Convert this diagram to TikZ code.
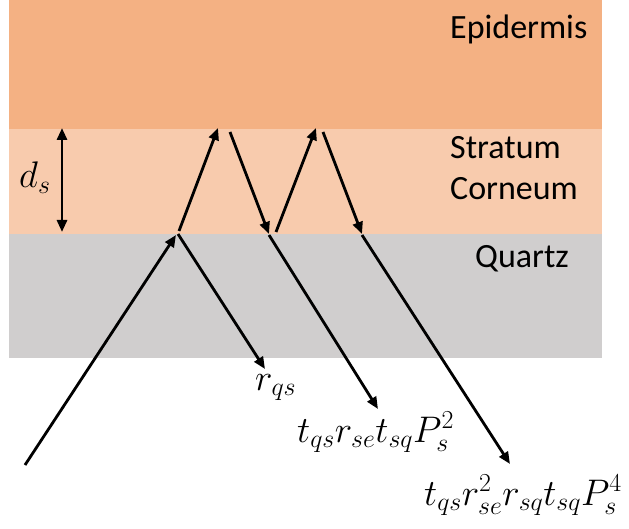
\RequirePackage{fix-cm}
\documentclass[tikz,border=0pt]{standalone}
\usepackage{fontspec}
\setsansfont{Carlito}
\usetikzlibrary{arrows.meta}
\definecolor{epi}{HTML}{F4B183}
\definecolor{sc}{HTML}{F8CBAD}
\definecolor{qz}{HTML}{D0CECE}
\begin{document}
\begin{tikzpicture}[x=1pt,y=-1pt,
  ray/.style={line width=2.8pt,-{Triangle[length=12pt,width=10pt]}},
  layerlabel/.style={anchor=base west,inner sep=0pt,font=\sffamily\fontsize{34}{41}\selectfont},
  mathlabel/.style={anchor=base west,inner sep=0pt,font=\fontsize{37}{44}\selectfont}]
\useasboundingbox (0,0) rectangle (629,529);
% layers
\fill[epi] (9,0) rectangle (602,129);
\fill[sc] (9,129) rectangle (602,234);
\fill[qz] (9,234) rectangle (602,358);
% layer labels
\node[layerlabel] (epid) at (450,39) {Epidermis};
\node[layerlabel] (strat) at (450,159) {Stratum};
\node[layerlabel] (corn) at (450,200) {Corneum};
\node[layerlabel] (quartz) at (475,268) {Quartz};
% thickness
\coordinate (dtop) at (62,128);
\coordinate (dbot) at (62,232);
\draw[line width=2.8pt,{Triangle[length=12pt,width=10pt]}-{Triangle[length=12pt,width=10pt]}] (dtop) -- (dbot);
\node[mathlabel] (ds) at (19,188) {$d_s$};
% ray points
\coordinate (a0) at (25,465);
\coordinate (a1) at (176,235);
\coordinate (r0) at (178,234);
\coordinate (r1) at (265,369);
\coordinate (u1s) at (179,231);
\coordinate (u1e) at (218,128);
\coordinate (d1s) at (230,132);
\coordinate (d1e) at (269,234);
\coordinate (t1s) at (269,235);
\coordinate (t1e) at (378,409);
\coordinate (u2s) at (276,232);
\coordinate (u2e) at (316,128);
\coordinate (d2s) at (323,132);
\coordinate (d2e) at (362,234);
\coordinate (t2s) at (362,235);
\coordinate (t2e) at (510,464);
\draw[ray] (a0) -- (a1);
\draw[ray] (r0) -- (r1);
\draw[ray] (u1s) -- (u1e);
\draw[ray] (d1s) -- (d1e);
\draw[ray] (t1s) -- (t1e);
\draw[ray] (u2s) -- (u2e);
\draw[ray] (d2s) -- (d2e);
\draw[ray] (t2s) -- (t2e);
% result labels
\node[mathlabel] (lr) at (255,390) {$r_{qs}$};
\node[mathlabel] (lt1) at (297,442) {$t_{qs}r_{se}t_{sq}P_s^2$};
\node[mathlabel] (lt2) at (424,505) {$t_{qs}r_{se}^2r_{sq}t_{sq}P_s^4$};
\end{tikzpicture}
\end{document}
